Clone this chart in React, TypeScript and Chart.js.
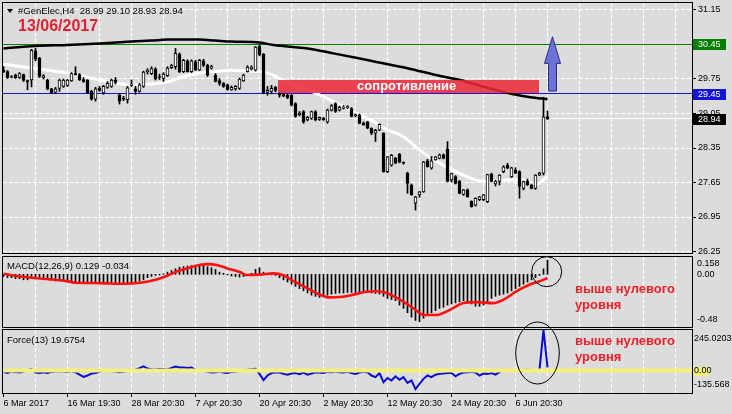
import React, { useEffect, useRef } from 'react';
import { Chart, registerables } from 'chart.js';

Chart.register(...registerables);

const FONT = "'Liberation Sans', Arial, sans-serif";
const BG = '#dcdcdc';

// ---------- candles (H4, #GenElec) ----------
const openP = [
  29.93, 29.90, 29.78, 29.83, 29.78, 29.84, 29.72, 29.73, 30.32, 30.17,
  29.78, 29.73, 29.55, 29.48, 29.56, 29.60, 29.62, 29.71, 29.86, 29.84,
  29.74, 29.73, 29.50, 29.34, 29.56, 29.47, 29.58, 29.60, 29.73, 29.43,
  29.36, 29.33, 29.62, 29.55, 29.50, 29.60, 29.90, 29.86, 29.95, 29.80,
  29.76, 29.82, 29.98, 30.00, 30.25, 29.90, 30.12, 29.90, 30.10, 29.93,
  30.12, 30.03, 29.97, 29.83, 29.72, 29.66, 29.63, 29.53, 29.55, 29.56,
  29.71, 29.90, 29.96, 29.93, 30.42, 30.25, 29.48, 29.50, 29.58, 29.46,
  29.45, 29.42, 29.42, 29.25, 29.02, 29.09, 28.92, 28.95, 29.09, 28.93,
  28.95, 28.88, 29.12, 29.25, 29.12, 29.16, 29.17, 29.15, 29.00, 29.02,
  28.85, 28.88, 28.75, 28.65, 28.71, 28.65, 27.87, 28.00, 28.14, 28.22,
  28.06, 27.84, 27.60, 27.23, 27.40, 27.46, 28.09, 27.94, 28.11, 28.14,
  28.21, 28.33, 27.70, 27.77, 27.68, 27.41, 27.50, 27.27, 27.19, 27.30,
  27.30, 27.26, 27.82, 27.62, 27.67, 27.87, 28.00, 27.77, 27.90, 27.87,
  27.53, 27.68, 27.60, 27.53, 27.80, 27.84, 28.99
];
const highP = [
  30.00, 29.92, 29.82, 29.85, 29.88, 29.85, 29.73, 30.35, 30.37, 30.19,
  29.84, 29.75, 29.56, 29.58, 29.75, 29.75, 29.74, 29.88, 30.00, 29.86,
  29.78, 29.74, 29.52, 29.58, 29.60, 29.62, 29.70, 29.75, 29.78, 29.46,
  29.40, 29.60, 29.73, 29.60, 29.66, 29.91, 29.96, 30.00, 29.98, 29.85,
  29.88, 30.00, 30.05, 30.37, 30.28, 30.15, 30.14, 30.14, 30.13, 30.15,
  30.15, 30.05, 30.03, 29.86, 29.76, 29.68, 29.65, 29.61, 29.62, 29.77,
  29.85, 30.02, 30.02, 30.41, 30.44, 30.27, 29.60, 29.62, 29.60, 29.50,
  29.48, 29.44, 29.44, 29.27, 29.09, 29.11, 28.99, 29.10, 29.11, 28.98,
  28.97, 29.14, 29.23, 29.27, 29.20, 29.21, 29.21, 29.17, 29.04, 29.04,
  28.88, 28.89, 28.76, 28.73, 28.84, 28.66, 28.18, 28.22, 28.16, 28.24,
  28.07, 27.86, 27.62, 27.37, 27.47, 28.08, 28.12, 28.18, 28.18, 28.23,
  28.23, 28.48, 27.84, 27.79, 27.69, 27.51, 27.52, 27.28, 27.34, 27.37,
  27.41, 27.82, 27.84, 27.70, 27.81, 27.99, 28.04, 27.96, 27.95, 27.89,
  27.68, 27.72, 27.62, 27.81, 27.86, 29.38, 29.10
];
const lowP = [
  29.88, 29.76, 29.77, 29.76, 29.76, 29.70, 29.53, 29.59, 30.12, 29.78,
  29.75, 29.53, 29.45, 29.46, 29.50, 29.58, 29.60, 29.70, 29.83, 29.72,
  29.68, 29.45, 29.32, 29.30, 29.50, 29.44, 29.56, 29.58, 29.65, 29.24,
  29.31, 29.26, 29.60, 29.44, 29.48, 29.58, 29.85, 29.84, 29.73, 29.74,
  29.70, 29.80, 29.96, 29.95, 29.88, 29.88, 29.89, 29.88, 29.92, 29.92,
  30.00, 29.80, 29.95, 29.69, 29.62, 29.58, 29.52, 29.52, 29.52, 29.54,
  29.70, 29.89, 29.93, 29.91, 30.22, 29.45, 29.42, 29.45, 29.49, 29.38,
  29.39, 29.35, 29.20, 28.97, 29.00, 28.85, 28.90, 28.93, 28.90, 28.91,
  28.91, 28.85, 29.10, 29.07, 29.10, 29.14, 29.15, 28.98, 28.98, 28.84,
  28.81, 28.74, 28.62, 28.48, 28.70, 27.86, 27.85, 27.98, 28.03, 28.05,
  28.02, 27.43, 27.39, 27.09, 27.35, 27.45, 27.96, 27.92, 28.10, 28.13,
  28.13, 27.66, 27.66, 27.62, 27.42, 27.39, 27.35, 27.15, 27.17, 27.28,
  27.28, 27.24, 27.66, 27.58, 27.60, 27.85, 27.93, 27.75, 27.83, 27.33,
  27.50, 27.59, 27.52, 27.51, 27.79, 27.80, 28.93
];
const closeP = [
  29.90, 29.78, 29.80, 29.77, 29.86, 29.72, 29.69, 30.33, 30.15, 29.80,
  29.82, 29.55, 29.47, 29.55, 29.73, 29.73, 29.73, 29.86, 29.84, 29.73,
  29.70, 29.47, 29.34, 29.55, 29.52, 29.60, 29.66, 29.73, 29.68, 29.30,
  29.34, 29.57, 29.65, 29.50, 29.63, 29.89, 29.93, 29.96, 29.75, 29.78,
  29.85, 29.97, 30.02, 30.27, 29.90, 30.13, 29.90, 30.12, 29.94, 30.13,
  30.03, 29.83, 30.00, 29.70, 29.66, 29.60, 29.54, 29.58, 29.60, 29.75,
  29.83, 29.99, 29.99, 30.40, 30.24, 29.47, 29.52, 29.56, 29.52, 29.42,
  29.40, 29.37, 29.22, 28.99, 29.06, 28.88, 28.97, 29.09, 28.92, 28.97,
  28.92, 29.12, 29.21, 29.09, 29.18, 29.18, 29.18, 28.99, 29.03, 28.85,
  28.82, 28.75, 28.65, 28.71, 28.83, 27.87, 28.17, 28.20, 28.04, 28.06,
  28.04, 27.63, 27.40, 27.36, 27.46, 28.07, 27.97, 28.09, 28.17, 28.21,
  28.14, 27.67, 27.83, 27.63, 27.43, 27.50, 27.36, 27.16, 27.33, 27.36,
  27.40, 27.81, 27.67, 27.68, 27.80, 27.97, 27.94, 27.95, 27.84, 27.57,
  27.67, 27.60, 27.53, 27.80, 27.84, 28.98, 28.94
];

// ---------- moving averages (read at sample bars) ----------
const blackMaBars = [0, 8, 16, 24, 32, 37, 41, 49, 53, 57, 64, 67.5, 76, 82.5, 92.4, 101, 109.2, 114.2, 119.2, 127.5, 131.7, 136];
const blackMaVals = [30.37, 30.42, 30.44, 30.47, 30.51, 30.53, 30.55, 30.55, 30.53, 30.51, 30.49, 30.44, 30.37, 30.27, 30.11, 29.97, 29.81, 29.73, 29.61, 29.44, 29.38, 29.34];
const whiteMaBars = [0, 7.4, 16, 24, 32.4, 36.7, 41, 45, 49, 53, 57, 61.7, 64, 67.4, 69, 79, 87.4, 91.7, 96, 100, 104, 108.4, 112.4, 116.7, 120, 125, 130, 133.4, 136];
const whiteMaVals = [30.05, 29.97, 29.87, 29.73, 29.63, 29.65, 29.69, 29.80, 29.87, 29.90, 29.93, 29.91, 29.90, 29.83, 29.76, 29.43, 29.09, 28.92, 28.72, 28.58, 28.31, 28.07, 27.90, 27.74, 27.67, 27.70, 27.70, 27.62, 27.78];

// ---------- MACD(12,26,9) ----------
const macdHist = [
  -0.02, -0.03, -0.03, -0.04, -0.04, -0.05, -0.05,
  -0.03, -0.02, -0.03, -0.03, -0.04,
  -0.05, -0.06, -0.06, -0.06, -0.07, -0.07,
  -0.07, -0.07, -0.075, -0.08, -0.085, -0.085, -0.08, -0.08, -0.08, -0.075, -0.075, -0.085, -0.085, -0.08, -0.075, -0.07, -0.06, -0.05,
  -0.03, -0.02, -0.01, -0.005, 0.005,
  0.02, 0.035, 0.05, 0.065, 0.07, 0.075, 0.08, 0.085, 0.085, 0.08, 0.07, 0.06, 0.045,
  0.02, 0.01, -0.005, -0.015,
  -0.02, -0.025, -0.02, -0.01,
  0.01, 0.045, 0.06,
  0.02, 0.005, -0.005, -0.01,
  -0.03, -0.05, -0.07, -0.09, -0.11,
  -0.13, -0.15, -0.17, -0.19, -0.2, -0.21, -0.2,
  -0.19, -0.18, -0.175, -0.17, -0.17, -0.165, -0.165, -0.165, -0.16, -0.16, -0.165,
  -0.17, -0.175, -0.18, -0.2, -0.22, -0.23, -0.24,
  -0.28, -0.31, -0.35, -0.39, -0.42, -0.43,
  -0.4, -0.37, -0.35, -0.33, -0.31,
  -0.3, -0.28, -0.27, -0.26, -0.25, -0.24,
  -0.25, -0.27, -0.29, -0.29, -0.28, -0.26,
  -0.22, -0.2, -0.19, -0.18, -0.17,
  -0.15, -0.13, -0.11, -0.09, -0.07, -0.05,
  -0.03, -0.01, 0.05, 0.129
];
const signalBars = [0, 3.3, 7.5, 11.6, 15.8, 18.3, 24.1, 30, 34.1, 38.3, 40.8, 43.3, 46.6, 50.8, 53.3, 55.8, 59.1, 60.8, 64.1, 67.5, 70, 72.5, 75.8, 79.1, 81.6, 84.1, 87.5, 90.8, 93.3, 95.8, 99.1, 102.5, 105, 108.3, 111.6, 115, 118.3, 122.4, 125, 128.3, 131.6, 134.1, 136];
const signalVals = [0.006, -0.015, -0.034, -0.046, -0.062, -0.077, -0.08, -0.086, -0.077, -0.046, -0.015, 0.025, 0.062, 0.093, 0.086, 0.056, 0.022, -0.006, -0.003, 0.009, -0.009, -0.062, -0.123, -0.185, -0.21, -0.207, -0.185, -0.158, -0.154, -0.17, -0.231, -0.309, -0.37, -0.37, -0.324, -0.262, -0.253, -0.262, -0.231, -0.154, -0.093, -0.062, -0.034];

// ---------- Force(13) ----------
const forceVals = [
  -8, -15, -5, -8, -12, -6,
  3, 8,
  -12, -15, -10, -14, -8,
  -5, -4, -6, -8, -3,
  -10, -25, -38, -30, -18, -15, -8,
  3, 2, -4, -6, -10, -8,
  -2, 2, 5, 15,
  26, 12, 8, 6, 10,
  8, 6, 16, 24, 18, 19, 15, 18,
  4, 2, -3, -8, -12,
  -10, -6, -12, -15, -8,
  -5, -3, 2, 5, 8,
  10, -20, -58, -30, -15, -10,
  -12, -20, -25, -18, -15, -22, -12, -25, -18, -10, -12, -14,
  -8, -10, -6, -10, -12, -8, -15, -20, -12,
  -8, -10, -30, -40, -15,
  -70, -45, -60, -35, -55, -40, -75, -60, -112, -80,
  -50, -30, -40, -25, -20, -18, -15,
  -15, -35, -20, -12, -10, -8, -12,
  -30, -18, -20, -15, -25, -10,
  2, 3, 4, 4, 3, 4, 5, 4, 3,
  5, 245, 19.6754
];

// ---------- axes / levels ----------
const priceTicks = [26.25, 26.95, 27.65, 28.35, 29.05, 29.75, 30.45, 31.15];
const timeLabels = ['6 Mar 2017', '16 Mar 19:30', '28 Mar 20:30', '7 Apr 20:30', '20 Apr 20:30', '2 May 20:30', '12 May 20:30', '24 May 20:30', '6 Jun 20:30'];
const timeLabelBars = [0, 16, 32, 48, 64, 80, 96, 112, 128];
const gridBars = [0, 8, 16, 24, 32, 40, 48, 56, 64, 72, 80, 88, 96, 104, 112, 120, 128, 136, 144, 152, 160, 168];
const levelValues = [30.45, 29.45, 28.94];
const levelColors = ['#008000', '#1414d8', '#ffffff'];
const levelBoxColors = ['#008000', '#1414d8', '#000000'];
const zoneBars = [68.7, 134];
const zoneValues = [29.73, 29.47];
const arrowBar = 137.1;
const arrowValues = [30.607, 30.067, 29.506]; // tip, head base, tail
const macdTicks = [0.158, 0, -0.48];
const macdTickText = ['0.158', '0.00', '-0.48'];
const forceTicks = [245.0203, 0, -135.568];
const forceTickText = ['245.0203', '0.00', '-135.568'];
const macdCircle = [135.8, 0.024];
const forceEllipse = [133.5, 106];

const X_MIN = -0.125;
const X_MAX = 172.125;
const Y_MAX = 31.292;
const Y_MIN = 26.2196;
const DASH = [4, 2];

function xScale(showLabels: boolean) {
  return {
    type: 'linear',
    min: X_MIN,
    max: X_MAX,
    offset: false,
    afterBuildTicks: (s: any) => { s.ticks = gridBars.map((v) => ({ value: v })); },
    grid: { display: false, offset: false, drawTicks: showLabels, tickLength: 4 },
    border: { display: false },
    ticks: {
      display: showLabels,
      autoSkip: false,
      maxRotation: 0,
      minRotation: 0,
      align: 'start',
      padding: 1,
      color: '#000',
      font: { family: FONT, size: 9 },
      callback: (v: any) => {
        const k = timeLabelBars.indexOf(Number(v));
        return k >= 0 ? timeLabels[k] : '';
      },
    },
    afterFit: (s: any) => {
      s.height = showLabels ? 21 : 0;
      s.paddingLeft = 0; s.paddingRight = 0;
    },
  };
}

// dashed white grid drawn from the scales
function drawGrid(chart: any, yValues: number[]) {
  const { ctx, chartArea: a, scales: { x, y } } = chart;
  ctx.save();
  ctx.strokeStyle = '#ffffff';
  ctx.lineWidth = 1;
  ctx.setLineDash(DASH);
  gridBars.forEach((b) => {
    if (b === 0) return;
    const px = Math.round(x.getPixelForValue(b) - 0.5) + 0.5;
    if (px > a.right - 1) return;
    ctx.beginPath();
    ctx.moveTo(px, a.top);
    ctx.lineTo(px, a.bottom);
    ctx.stroke();
  });
  yValues.forEach((v) => {
    const py = Math.round(y.getPixelForValue(v) - 0.5) + 0.5;
    ctx.beginPath();
    ctx.moveTo(a.left, py);
    ctx.lineTo(a.right, py);
    ctx.stroke();
  });
  ctx.restore();
}

function frame(chart: any) {
  const { ctx, chartArea: a } = chart;
  ctx.save();
  ctx.strokeStyle = '#000';
  ctx.lineWidth = 1;
  ctx.strokeRect(a.left - 0.5, a.top - 0.5, a.right - a.left + 1, a.bottom - a.top + 1);
  ctx.restore();
}

function sideLabels(chart: any, values: number[], texts: string[], inset: number, lx: number) {
  const { ctx, chartArea: a, scales } = chart;
  ctx.save();
  ctx.font = `9px ${FONT}`;
  ctx.fillStyle = '#000';
  ctx.textBaseline = 'middle';
  ctx.textAlign = 'left';
  values.forEach((v, i) => {
    let py = scales.y.getPixelForValue(v);
    py = Math.min(Math.max(py, a.top + inset), a.bottom - inset);
    ctx.fillText(texts[i], lx, py);
  });
  ctx.restore();
}

const mainDecor = {
  id: 'mainDecor',
  beforeDatasetsDraw(chart: any) {
    drawGrid(chart, priceTicks);
    const { ctx, chartArea: a, scales: { y } } = chart;
    ctx.save();
    ctx.lineWidth = 1;
    ctx.strokeStyle = '#000';
    priceTicks.forEach((v) => {
      const py = Math.round(y.getPixelForValue(v) - 0.5) + 0.5;
      ctx.beginPath();
      ctx.moveTo(a.right, py);
      ctx.lineTo(a.right + 4, py);
      ctx.stroke();
    });
    levelValues.forEach((v, i) => {
      const py = Math.round(y.getPixelForValue(v) - 0.5) + 0.5;
      ctx.strokeStyle = levelColors[i];
      ctx.beginPath();
      ctx.moveTo(a.left, py);
      ctx.lineTo(a.right, py);
      ctx.stroke();
    });
    ctx.restore();
  },
  afterDatasetsDraw(chart: any) {
    const { ctx, scales: { x, y } } = chart;
    ctx.save();
    const x1 = x.getPixelForValue(zoneBars[0]);
    const x2 = x.getPixelForValue(zoneBars[1]);
    const y1 = y.getPixelForValue(zoneValues[0]);
    const y2 = y.getPixelForValue(zoneValues[1]);
    ctx.fillStyle = 'rgba(238,40,56,0.86)';
    ctx.fillRect(Math.round(x1), Math.round(y1), Math.round(x2 - x1), Math.round(y2 - y1));

    const ax = Math.round(x.getPixelForValue(arrowBar)) + 0.5;
    const tip = y.getPixelForValue(arrowValues[0]);
    const base = y.getPixelForValue(arrowValues[1]);
    const tail = y.getPixelForValue(arrowValues[2]);
    ctx.beginPath();
    ctx.moveTo(ax, tip);
    ctx.lineTo(ax + 8, base);
    ctx.lineTo(ax + 4, base);
    ctx.lineTo(ax + 4, tail);
    ctx.lineTo(ax - 4, tail);
    ctx.lineTo(ax - 4, base);
    ctx.lineTo(ax - 8, base);
    ctx.closePath();
    ctx.fillStyle = '#6b74d4';
    ctx.fill();
    ctx.strokeStyle = '#2c2c88';
    ctx.lineWidth = 1;
    ctx.stroke();
    ctx.restore();
  },
  afterDraw(chart: any) {
    frame(chart);
    const { ctx, scales: { y } } = chart;
    ctx.save();
    ctx.font = `9px ${FONT}`;
    ctx.textBaseline = 'middle';
    ctx.textAlign = 'left';
    levelValues.forEach((v, i) => {
      const py = Math.round(y.getPixelForValue(v));
      ctx.fillStyle = levelBoxColors[i];
      ctx.fillRect(693, py - 5, 33, 11);
      ctx.fillStyle = '#ffffff';
      ctx.fillText(v.toFixed(2), 698, py + 0.5);
    });
    ctx.restore();
  },
};

const macdDecor = {
  id: 'macdDecor',
  beforeDatasetsDraw(chart: any) {
    drawGrid(chart, []);
  },
  afterDraw(chart: any) {
    frame(chart);
    sideLabels(chart, macdTicks, macdTickText, 7, 697);
    const { ctx, scales: { x, y } } = chart;
    ctx.save();
    ctx.strokeStyle = '#000';
    ctx.lineWidth = 1;
    ctx.beginPath();
    ctx.arc(x.getPixelForValue(macdCircle[0]), y.getPixelForValue(macdCircle[1]), 15, 0, Math.PI * 2);
    ctx.stroke();
    ctx.restore();
  },
};

const forceDecor = {
  id: 'forceDecor',
  beforeDatasetsDraw(chart: any) {
    drawGrid(chart, []);
  },
  afterDatasetsDraw(chart: any) {
    const { ctx, chartArea: a, scales: { y } } = chart;
    ctx.save();
    const py = y.getPixelForValue(0);
    ctx.strokeStyle = '#f4f07c';
    ctx.lineWidth = 4;
    ctx.beginPath();
    ctx.moveTo(a.left, py);
    ctx.lineTo(a.right, py);
    ctx.stroke();
    ctx.restore();
  },
  afterDraw(chart: any) {
    frame(chart);
    const { ctx, chartArea: a, scales: { x, y } } = chart;
    ctx.save();
    ctx.strokeStyle = '#000';
    ctx.lineWidth = 1;
    timeLabelBars.forEach((b) => {
      const px = Math.round(x.getPixelForValue(b) - 0.5) + 0.5;
      ctx.beginPath();
      ctx.moveTo(px, a.bottom);
      ctx.lineTo(px, a.bottom + 4);
      ctx.stroke();
    });
    const py = y.getPixelForValue(0);
    ctx.fillStyle = '#f4f07c';
    ctx.fillRect(693, Math.round(py) - 4, 16, 9);
    ctx.beginPath();
    ctx.ellipse(x.getPixelForValue(forceEllipse[0]), y.getPixelForValue(forceEllipse[1]), 21.8, 31, 0, 0, Math.PI * 2);
    ctx.stroke();
    ctx.restore();
    sideLabels(chart, forceTicks, forceTickText, 8.5, 694);
  },
};

const commonPlugins = { legend: { display: false }, tooltip: { enabled: false } };

function sideY(min: number, max: number) {
  return {
    position: 'right',
    min,
    max,
    afterBuildTicks: (s: any) => { s.ticks = []; },
    grid: { display: false, drawTicks: false },
    border: { display: false },
    ticks: { display: false },
    afterFit: (s: any) => { s.width = 40; s.paddingTop = 0; s.paddingBottom = 0; },
  };
}

export default function App() {
  const mainRef = useRef<HTMLCanvasElement>(null);
  const macdRef = useRef<HTMLCanvasElement>(null);
  const forceRef = useRef<HTMLCanvasElement>(null);

  useEffect(() => {
    document.body.style.margin = '0';
    const candleWicks = lowP.map((l, i) => ({ x: i, y: [l, highP[i]] }));
    const candleBodies = openP.map((o, i) => ({ x: i, y: [o, closeP[i]] }));
    const bodyColors = openP.map((o, i) => (closeP[i] >= o ? '#ffffff' : '#000000'));

    const main = new Chart(mainRef.current as HTMLCanvasElement, {
      type: 'bar',
      data: {
        datasets: [
          {
            type: 'line', label: 'MA slow',
            data: blackMaBars.map((b, i) => ({ x: b, y: blackMaVals[i] })),
            borderColor: '#000000', borderWidth: 2.5, pointRadius: 0,
            cubicInterpolationMode: 'monotone', order: 6,
          },
          {
            type: 'line', label: 'MA fast',
            data: whiteMaBars.map((b, i) => ({ x: b, y: whiteMaVals[i] })),
            borderColor: '#ffffff', borderWidth: 3, pointRadius: 0,
            cubicInterpolationMode: 'monotone', order: 5,
          },
          {
            type: 'bar', label: 'wick', data: candleWicks,
            backgroundColor: '#000000', barThickness: 1, grouped: false, order: 2,
          },
          {
            type: 'bar', label: 'body', data: candleBodies,
            backgroundColor: bodyColors, borderColor: '#000000', borderWidth: 1,
            borderSkipped: false, barThickness: 3, grouped: false, minBarLength: 1, order: 1,
          },
        ],
      } as any,
      options: {
        responsive: false, animation: false, devicePixelRatio: 1, events: [],
        layout: { padding: { left: 3, top: 3, right: 0, bottom: 3 } },
        plugins: commonPlugins,
        scales: {
          x: xScale(false),
          y: {
            position: 'right', min: Y_MIN, max: Y_MAX,
            afterBuildTicks: (s: any) => { s.ticks = priceTicks.map((v) => ({ value: v })); },
            grid: { display: false, drawTicks: true, tickLength: 4 },
            border: { display: false },
            ticks: { color: '#000', padding: 2, font: { family: FONT, size: 9 }, callback: (v: any) => Number(v).toFixed(2) },
            afterFit: (s: any) => { s.width = 40; s.paddingTop = 0; s.paddingBottom = 0; },
          },
        },
      } as any,
      plugins: [mainDecor],
    });

    const macd = new Chart(macdRef.current as HTMLCanvasElement, {
      type: 'bar',
      data: {
        datasets: [
          {
            type: 'line', label: 'Signal',
            data: signalBars.map((b, i) => ({ x: b, y: signalVals[i] })),
            borderColor: '#ff1010', borderWidth: 2.6, pointRadius: 0,
            cubicInterpolationMode: 'monotone', order: 1,
          },
          {
            type: 'bar', label: 'MACD',
            data: macdHist.map((v, i) => ({ x: i, y: v })),
            backgroundColor: '#000000', barThickness: 1, grouped: false, order: 2,
          },
        ],
      } as any,
      options: {
        responsive: false, animation: false, devicePixelRatio: 1, events: [],
        layout: { padding: { left: 3, top: 7, right: 0, bottom: 1 } },
        plugins: commonPlugins,
        scales: { x: xScale(false), y: sideY(-0.48, 0.158) },
      } as any,
      plugins: [macdDecor],
    });

    const force = new Chart(forceRef.current as HTMLCanvasElement, {
      type: 'line',
      data: {
        datasets: [
          {
            label: 'Force(13)',
            data: forceVals.map((v, i) => ({ x: i, y: v })),
            borderColor: '#0a0ad2', borderWidth: 2, pointRadius: 0, tension: 0,
          },
        ],
      } as any,
      options: {
        responsive: false, animation: false, devicePixelRatio: 1, events: [],
        layout: { padding: { left: 3, top: 12, right: 0, bottom: 0 } },
        plugins: commonPlugins,
        scales: { x: xScale(true), y: sideY(-135.568, 245.0203) },
      } as any,
      plugins: [forceDecor],
    });

    return () => { main.destroy(); macd.destroy(); force.destroy(); };
  }, []);

  const txt = (left: number, top: number, size: number, color: string, bold = false, lh = 12): React.CSSProperties => ({
    position: 'absolute', left, top, fontSize: size, lineHeight: `${lh}px`, color,
    fontWeight: bold ? 'bold' : 'normal', whiteSpace: 'pre', fontFamily: FONT, pointerEvents: 'none',
  });

  return (
    <div style={{ position: 'fixed', left: 0, top: 0, width: 732, height: 414, background: BG, overflow: 'hidden' }}>
      <canvas ref={mainRef} width={732} height={256} style={{ position: 'absolute', left: 0, top: 0, width: 732, height: 256 }} />
      <canvas ref={macdRef} width={732} height={78} style={{ position: 'absolute', left: 0, top: 250, width: 732, height: 78 }} />
      <canvas ref={forceRef} width={732} height={96} style={{ position: 'absolute', left: 0, top: 318, width: 732, height: 96 }} />

      <div style={{ position: 'absolute', left: 7, top: 9, width: 0, height: 0, borderLeft: '3px solid transparent', borderRight: '3px solid transparent', borderTop: '4px solid #000' }} />
      <div style={txt(18, 5, 9.5, '#000')}>{'#GenElec,H4  28.99 29.10 28.93 28.94'}</div>
      <div style={txt(18, 17.4, 16, '#dd2233', true, 18)}>13/06/2017</div>
      <div style={{ ...txt(306.7, 77.7, 13, '#ffffff', true, 15), width: 200, textAlign: 'center' }}>сопротивление</div>

      <div style={txt(7, 259.8, 9.5, '#000')}>{'MACD(12,26,9) 0.129 -0.034'}</div>
      <div style={txt(575, 280.9, 13, '#e8222b', true, 16)}>{'выше нулевого\nуровня'}</div>

      <div style={txt(7, 334, 9.5, '#000')}>{'Force(13) 19.6754'}</div>
      <div style={txt(575, 332.6, 13, '#e8222b', true, 16)}>{'выше нулевого\nуровня'}</div>
    </div>
  );
}
